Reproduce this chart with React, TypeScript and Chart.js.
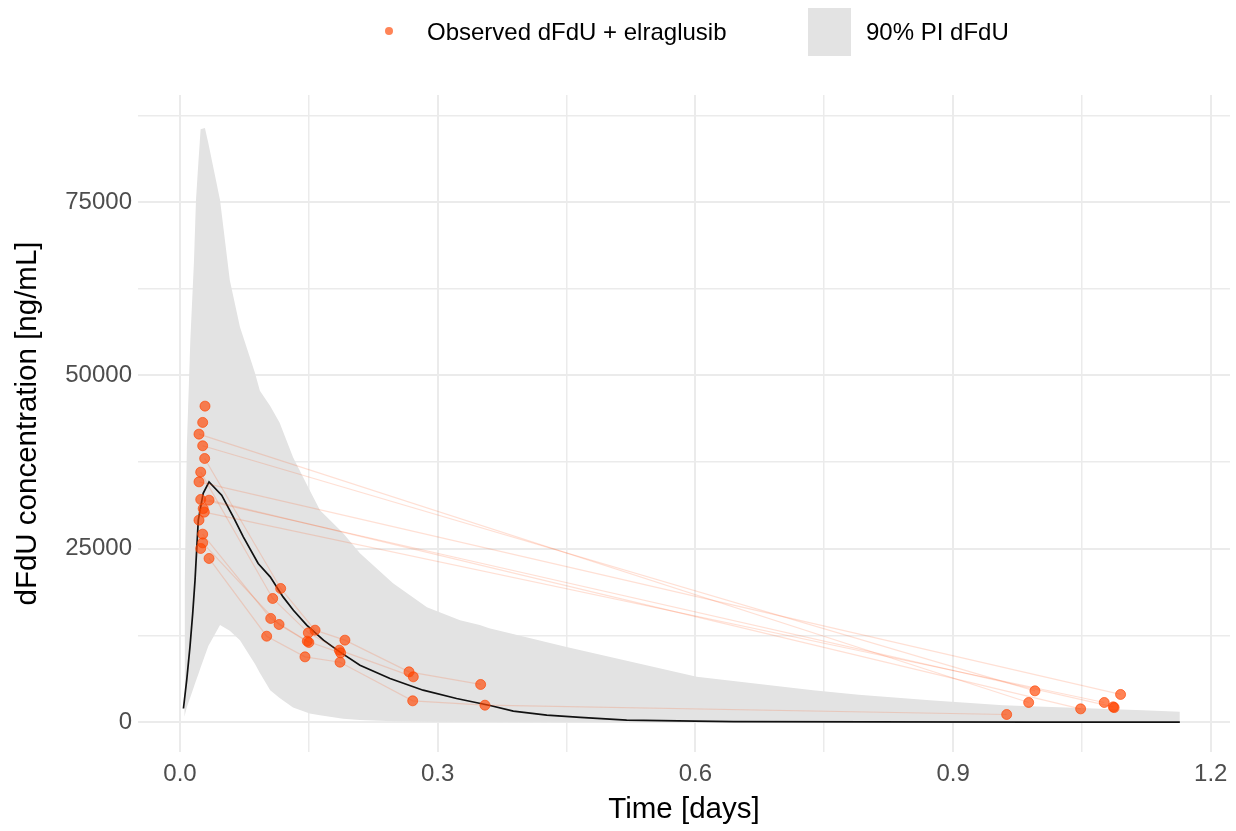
import React, { useEffect, useRef } from "react";
import { Chart, registerables } from "chart.js";

Chart.register(...registerables);

// ---------- data ----------
const bandTime = [0.005, 0.0055, 0.008, 0.012, 0.0163, 0.0186, 0.021, 0.024, 0.029, 0.033, 0.0466, 0.058, 0.0698, 0.0873, 0.093, 0.105, 0.116, 0.1316, 0.151, 0.163, 0.19, 0.2095, 0.248, 0.2875, 0.326, 0.349, 0.36, 0.45, 0.6015, 0.737, 0.79, 0.873, 0.958, 1.121, 1.164];
const bandUpper = [3000, 20000, 40000, 55000, 66600, 75300, 80000, 85500, 85700, 83500, 75300, 63750, 56975, 50340, 47800, 45600, 43200, 38220, 33460, 30580, 27260, 24375, 20050, 16590, 14710, 14000, 13560, 10860, 6540, 4615, 3950, 3170, 2450, 1730, 1490];
const bandLower = [770, 950, 2190, 3610, 5140, 5960, 6810, 7880, 9600, 11000, 14000, 13200, 11800, 8400, 7100, 4615, 3500, 2100, 1250, 1000, 500, 300, 120, 50, 20, 10, 10, 0, 0, 0, 0, 0, 0, 0, 0];

const medianTime = [0.004, 0.0078, 0.0116, 0.0148, 0.0175, 0.0213, 0.027, 0.0338, 0.0485, 0.062, 0.0737, 0.091, 0.105, 0.12, 0.132, 0.1475, 0.167, 0.186, 0.2095, 0.2445, 0.283, 0.322, 0.361, 0.388, 0.427, 0.466, 0.52, 0.6, 0.644, 0.8, 1.0, 1.164];
const medianConc = [1970, 6060, 10860, 15700, 20480, 29140, 33000, 34660, 32740, 29610, 26730, 22890, 20960, 18070, 16150, 13990, 11830, 10140, 8220, 6300, 4615, 3420, 2400, 1590, 1010, 680, 290, 150, 80, 40, 20, 10];

// observed individual profiles (time in days, concentration in ng/mL)
const subjectTimes: number[][] = [
  [0.0287, 0.1172, 0.1572, 0.192, 0.2666, 0.35],
  [0.0241, 0.1079, 0.1494, 0.1855, 0.2716],
  [0.0264, 0.1056, 0.1482, 0.187],
  [0.0264, 0.1153, 0.15],
  [0.0338, 0.1009, 0.1455, 0.1863, 0.2709, 0.355, 0.9624],
  [0.0221, 0.988],
  [0.0264, 0.9953],
  [0.0221, 1.095],
  [0.0241, 1.0865],
  [0.0338, 1.0485],
  [0.0283, 1.076],
];
const subjectConcs: number[][] = [
  [38030, 19280, 13270, 11830, 7260, 5440],
  [36060, 17840, 12880, 10385, 6540],
  [27120, 14960, 11680, 10000],
  [25860, 14090, 11500],
  [23610, 12400, 9420, 8650, 3080, 2450, 1110],
  [41540, 2840],
  [39860, 4520],
  [34660, 4000],
  [32120, 2210],
  [32020, 1920],
  [30290, 2840],
];
// single observations without a visible connecting line
const extraTimes = [0.0291, 0.0264, 0.027, 0.0241, 0.0221, 1.0875];
const extraConcs = [45580, 43230, 30800, 25050, 29140, 2100];

const xMajorTicks = [0, 0.3, 0.6, 0.9, 1.2];
const xMinorTicks = [0.15, 0.45, 0.75, 1.05];
const yMajorTicks = [0, 25000, 50000, 75000];
const yMinorTicks = [12500, 37500, 62500, 87500];
const legendLabels = ["Observed dFdU + elraglusib", "90% PI dFdU"];
const xTitle = "Time [days]";
const yTitle = "dFdU concentration [ng/mL]";

// ---------- styles ----------
const FONT = '"Liberation Sans", Arial, Helvetica, sans-serif';
const PT_COLOR = "rgba(255, 69, 0, 0.66)";
const LINE_COLOR = "rgba(255, 69, 0, 0.17)";
const BAND_COLOR = "#e3e3e3";
const GRID_COLOR = "#ebebeb";

const legendPlugin = {
  id: "customLegend",
  afterDraw(chart: any) {
    const ctx = chart.ctx;
    ctx.save();
    ctx.fillStyle = PT_COLOR;
    ctx.beginPath();
    ctx.arc(389, 31, 4, 0, Math.PI * 2);
    ctx.fill();
    ctx.fillStyle = BAND_COLOR;
    ctx.fillRect(808, 8, 43, 48);
    ctx.fillStyle = "#000";
    ctx.font = `24px ${FONT}`;
    ctx.textBaseline = "middle";
    ctx.textAlign = "left";
    ctx.fillText(legendLabels[0], 427, 33);
    ctx.fillText(legendLabels[1], 866, 33);
    ctx.restore();
  },
};

export default function App() {
  const ref = useRef<HTMLCanvasElement>(null);

  useEffect(() => {
    if (!ref.current) return;
    const xy = (ts: number[], cs: number[]) => ts.map((t, i) => ({ x: t, y: cs[i] }));

    const datasets: any[] = [];
    datasets.push({
      data: xy(bandTime, bandLower),
      borderColor: "rgba(0,0,0,0)",
      borderWidth: 0,
      pointRadius: 0,
      fill: false,
      order: 5,
    });
    datasets.push({
      data: xy(bandTime, bandUpper),
      borderColor: "rgba(0,0,0,0)",
      borderWidth: 0,
      pointRadius: 0,
      fill: "-1",
      backgroundColor: BAND_COLOR,
      order: 4,
    });
    datasets.push({
      data: xy(medianTime, medianConc),
      borderColor: "#111",
      borderWidth: 1.7,
      pointRadius: 0,
      fill: false,
      order: 3,
    });
    subjectTimes.forEach((ts, k) => {
      datasets.push({
        data: xy(ts, subjectConcs[k]),
        borderColor: LINE_COLOR,
        borderWidth: 1.2,
        pointRadius: 0,
        fill: false,
        order: 2,
      });
    });
    const pts: { x: number; y: number }[] = [];
    subjectTimes.forEach((ts, k) => pts.push(...xy(ts, subjectConcs[k])));
    pts.push(...xy(extraTimes, extraConcs));
    datasets.push({
      data: pts,
      showLine: false,
      pointRadius: 5,
      pointBackgroundColor: PT_COLOR,
      pointBorderColor: PT_COLOR,
      pointBorderWidth: 1,
      order: 1,
    });

    const xAll = [...xMajorTicks, ...xMinorTicks].sort((a, b) => a - b);
    const yAll = [...yMajorTicks, ...yMinorTicks].sort((a, b) => a - b);

    const chart = new Chart(ref.current, {
      type: "line",
      data: { datasets },
      options: {
        animation: false,
        responsive: false,
        maintainAspectRatio: false,
        events: [],
        elements: { line: { tension: 0 } },
        layout: { padding: { top: 95, right: 6, left: 0, bottom: 0 } },
        plugins: { legend: { display: false }, tooltip: { enabled: false } },
        scales: {
          x: {
            type: "linear",
            min: -0.0489,
            max: 1.2224,
            afterBuildTicks: (s: any) => {
              s.ticks = xAll.map((v) => ({ value: v }));
            },
            afterFit: (s: any) => {
              s.height = 79;
            },
            border: { display: false },
            grid: {
              color: GRID_COLOR,
              drawTicks: false,
              lineWidth: (c: any) => (xMajorTicks.includes(c.tick?.value) ? 2 : 1.5),
            },
            ticks: {
              autoSkip: false,
              maxRotation: 0,
              padding: 8,
              color: "#4d4d4d",
              font: { family: FONT, size: 24 },
              callback: (v: any) => (xMajorTicks.includes(v) ? Number(v).toFixed(1) : ""),
            },
            title: {
              display: true,
              text: xTitle,
              color: "#000",
              font: { family: FONT, size: 29.5 },
              padding: { top: 0, bottom: 3 },
            },
          },
          y: {
            type: "linear",
            min: -4300,
            max: 90450,
            afterBuildTicks: (s: any) => {
              s.ticks = yAll.map((v) => ({ value: v }));
            },
            afterFit: (s: any) => {
              s.width = 138;
            },
            border: { display: false },
            grid: {
              color: GRID_COLOR,
              drawTicks: false,
              lineWidth: (c: any) => (yMajorTicks.includes(c.tick?.value) ? 2 : 1.5),
            },
            ticks: {
              autoSkip: false,
              padding: 6,
              color: "#4d4d4d",
              font: { family: FONT, size: 24 },
              callback: (v: any) => (yMajorTicks.includes(v) ? String(v) : ""),
            },
            title: {
              display: true,
              text: yTitle,
              color: "#000",
              font: { family: FONT, size: 29.5 },
              padding: { top: 10, bottom: 0 },
            },
          },
        },
      },
      plugins: [legendPlugin],
    } as any);

    return () => chart.destroy();
  }, []);

  return (
    <div style={{ position: "fixed", left: 0, top: 0, width: 1236, height: 831, background: "#fff" }}>
      <canvas ref={ref} width={1236} height={831} style={{ display: "block" }} />
    </div>
  );
}
